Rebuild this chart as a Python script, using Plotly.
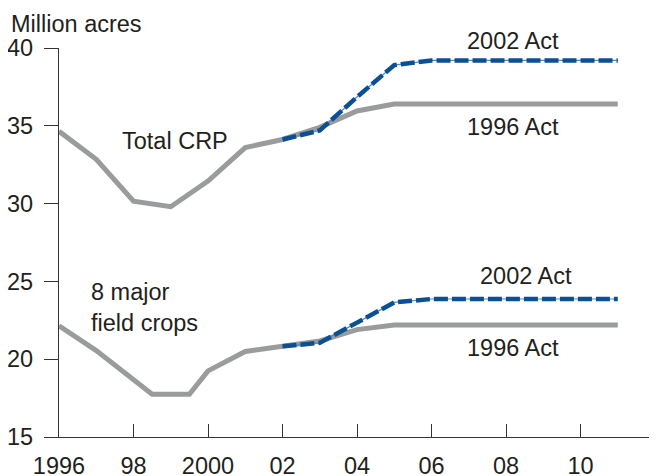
import plotly.graph_objects as go

# ---- data ----
years_hist = [1996, 1997, 1998, 1999, 2000, 2001, 2002, 2003, 2004, 2005, 2006, 2007, 2008, 2009, 2010, 2011]
crp_1996_act = [34.65, 32.85, 30.15, 29.8, 31.45, 33.6, 34.12, 34.9, 35.95, 36.4, 36.4, 36.4, 36.4, 36.4, 36.4, 36.4]

years_2002 = [2002, 2003, 2004, 2005, 2006, 2007, 2008, 2009, 2010, 2011]
crp_2002_act = [34.12, 34.7, 36.85, 38.9, 39.2, 39.2, 39.2, 39.2, 39.2, 39.2]

years_crops = [1996, 1997, 1998.5, 1999.5, 2000, 2001, 2002, 2003, 2004, 2005, 2006, 2007, 2008, 2009, 2010, 2011]
crops_1996_act = [22.15, 20.55, 17.75, 17.75, 19.25, 20.5, 20.83, 21.17, 21.9, 22.2, 22.2, 22.2, 22.2, 22.2, 22.2, 22.2]
crops_2002_act = [20.83, 21.05, 22.35, 23.65, 23.87, 23.87, 23.87, 23.87, 23.87, 23.87]

x_tickvals = [1996, 1998, 2000, 2002, 2004, 2006, 2008, 2010, 2012]
x_ticktext = ["1996", "98", "2000", "02", "04", "06", "08", "10", ""]
y_tickvals = [15, 20, 25, 30, 35, 40]

GRAY = "#9a9b9d"
BLUE = "#0b4f94"
THIN = "#4f8ccc"
TXT = "#231f20"
FONT = "Liberation Sans, Arial, Helvetica, sans-serif"
FS = 23.5

fig = go.Figure()

def gray(x, y):
    fig.add_trace(go.Scatter(x=x, y=y, mode="lines", line=dict(color=GRAY, width=5),
                             showlegend=False, hoverinfo="skip"))

def blue(x, y):
    fig.add_trace(go.Scatter(x=x, y=y, mode="lines", line=dict(color=THIN, width=1.2),
                             showlegend=False, hoverinfo="skip"))
    fig.add_trace(go.Scatter(x=x, y=y, mode="lines", line=dict(color=BLUE, width=4.5, dash="14px,4px"),
                             showlegend=False, hoverinfo="skip"))

gray(years_hist, crp_1996_act)
blue(years_2002, crp_2002_act)
gray(years_crops, crops_1996_act)
blue(years_2002, crops_2002_act)

ann_font = dict(family=FONT, size=FS, color=TXT)
annotations = [
    dict(text="Million acres", x=0.0, y=1.0, xref="paper", yref="paper", xanchor="left", yanchor="middle", xshift=-50, yshift=24),
    dict(text="Total CRP", x=1997.65, y=34.0, xanchor="left", yanchor="middle"),
    dict(text="2002 Act", x=2008.2, y=1.0, yref="paper", xanchor="center", yanchor="middle", yshift=7),
    dict(text="1996 Act", x=2008.2, y=34.9, xanchor="center", yanchor="middle"),
    dict(text="8 major<br>field crops", x=1996.8, y=23.3, xanchor="left", yanchor="middle", align="left"),
    dict(text="2002 Act", x=2008.55, y=25.35, xanchor="center", yanchor="middle"),
    dict(text="1996 Act", x=2008.2, y=20.75, xanchor="center", yanchor="middle"),
]
for a in annotations:
    a.setdefault("xref", "x")
    a.setdefault("yref", "y")
    a["showarrow"] = False
    a["font"] = ann_font

# the page adds an 8px body margin, so the figure is sized to fit the remaining window
fig.update_layout(
    width=649, height=468,
    margin=dict(l=51, r=2, t=40, b=39, autoexpand=False),
    paper_bgcolor="white", plot_bgcolor="white",
    font=dict(family=FONT, size=FS, color=TXT),
    annotations=annotations,
    showlegend=False,
)
fig.update_xaxes(range=[1996, 2012], tickvals=x_tickvals, ticktext=x_ticktext,
                 ticks="inside", ticklen=13, tickwidth=1.2, tickcolor="#333",
                 showline=True, linecolor="#333", linewidth=1.2, showgrid=False, zeroline=False,
                 automargin=False, ticklabelstandoff=8, tickfont=dict(size=FS, color=TXT))
fig.update_yaxes(range=[15, 40], tickvals=y_tickvals,
                 ticks="outside", ticklen=14, tickwidth=1.2, tickcolor="#333",
                 showline=True, linecolor="#333", linewidth=1.2, showgrid=False, zeroline=False,
                 automargin=False, ticklabelstandoff=6, tickfont=dict(size=FS, color=TXT))

fig.write_html("out.html")
